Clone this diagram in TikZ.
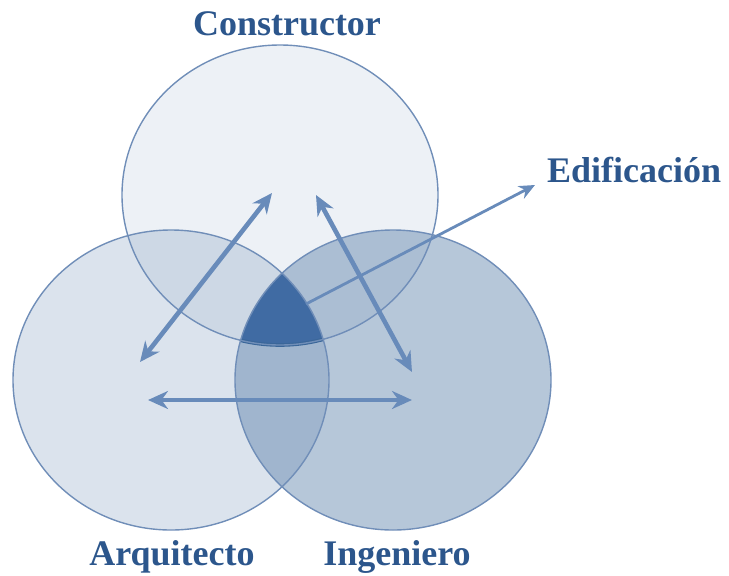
\documentclass[tikz,border=0pt]{standalone}
\usepackage{fontspec}
\setmainfont{Liberation Serif}
\usetikzlibrary{arrows.meta}
\definecolor{venn}{RGB}{58,102,153}
\definecolor{nucleo}{RGB}{64,107,163}
\definecolor{rim}{RGB}{112,142,184}
\definecolor{arrowblue}{RGB}{104,139,186}
\definecolor{titleblue}{RGB}{44,86,140}
\tikzset{
  rol/.style={font=\fontsize{18}{18}\selectfont\bfseries,text=titleblue,anchor=base,inner sep=0pt},
  rel/.style={draw=arrowblue,line width=2.3pt,{Stealth[length=10pt,width=9pt]}-{Stealth[length=10pt,width=9pt]}},
  salida/.style={draw=arrowblue,line width=1.4pt,-{Stealth[length=8pt,width=7pt]}}
}
\begin{document}
\begin{tikzpicture}[x=0.5pt,y=-0.5pt]
\useasboundingbox (0,0) rectangle (729,575);
\foreach \cx/\cy/\op in {280/195/0.09,171/380/0.18,393/380/0.37}
{
  \fill[venn,fill opacity=\op] (\cx,\cy) ellipse [x radius=158,y radius=150];
}
\begin{scope}
  \clip (171,380) ellipse [x radius=158,y radius=150];
  \clip (393,380) ellipse [x radius=158,y radius=150];
  \fill[nucleo] (280,195) ellipse [x radius=158,y radius=150];
  \draw[venn,line width=1.8pt] (280,195) ellipse [x radius=158,y radius=150];
\end{scope}
\foreach \cx/\cy in {280/195,171/380,393/380}
{
  \draw[rim,line width=0.7pt] (\cx,\cy) ellipse [x radius=158,y radius=150];
}
\coordinate (arqA) at (140,362);
\coordinate (conA) at (272,193);
\coordinate (conI) at (316,195);
\coordinate (ingC) at (412,372);
\coordinate (arqI) at (148,400);
\coordinate (ingA) at (412,400);
\coordinate (centro) at (306,304);
\coordinate (edif) at (535,185);
\draw[rel] (arqA) -- (conA);
\draw[rel] (conI) -- (ingC);
\draw[rel] (arqI) -- (ingA);
\draw[salida] (centro) -- (edif);
\node[rol] (constructor) at (287,35) {Constructor};
\node[rol] (edificacion) at (634,182) {Edificación};
\node[rol] (arquitecto) at (172,565) {Arquitecto};
\node[rol] (ingeniero) at (397,565) {Ingeniero};
\end{tikzpicture}
\end{document}
